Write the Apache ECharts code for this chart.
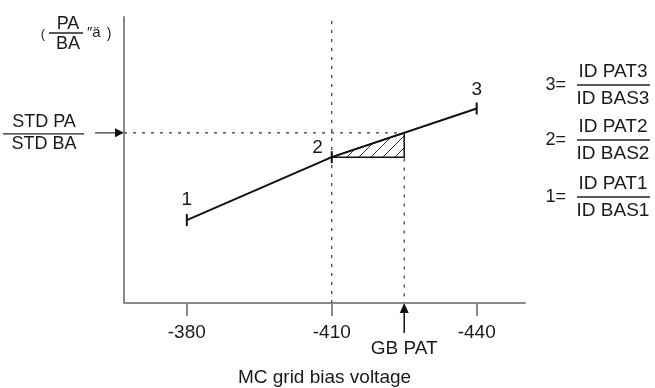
<!DOCTYPE html>
<html>
<head>
<meta charset="utf-8">
<script src="https://cdn.jsdelivr.net/npm/echarts@6/dist/echarts.min.js"></script>
<style>
  html, body { margin: 0; padding: 0; background: #fff; }
  #chart { width: 655px; height: 388px; }
</style>
</head>
<body>
<div id="chart"></div>
<script>
// Grid bias voltage settings (V) and the measured PA/BA ratio at each one
const biasVoltages = [-380, -410, -440];
const pointNames = ['1', '2', '3'];
const ratioValues = [29, 51, 68];
const tickValues = [-380, -410, -440];

// Target ratio and the bias voltage where the line reaches it
const stdRatio = 59.5;
const gbPat = -425;

// Axis extents
const xMin = -450;
const xMax = -367;
const yMin = 0;
const yMax = 100;

const FONT = 'Liberation Sans';
const INK = '#1a1a1a';
const AXIS_GRAY = '#8a8a8a';

// Diagonal hatch texture for the correction triangle
function makeHatch() {
  const c = document.createElement('canvas');
  const s = 12;
  c.width = s; c.height = s;
  const g = c.getContext('2d');
  g.strokeStyle = '#333';
  g.lineWidth = 1;
  g.beginPath();
  g.moveTo(0, s); g.lineTo(s, 0);
  g.moveTo(-3, 3); g.lineTo(3, -3);
  g.moveTo(s - 3, s + 3); g.lineTo(s + 3, s - 3);
  g.stroke();
  return { image: c, repeat: 'repeat' };
}
const hatch = makeHatch();

const linePoints = biasVoltages.map((v, i) => [v, ratioValues[i]]);
const triangle = [
  [biasVoltages[1], ratioValues[1]],
  [gbPat, ratioValues[1]],
  [gbPat, stdRatio]
];

const chart = echarts.init(document.getElementById('chart'), null, { renderer: 'canvas' });

chart.setOption({
  animation: false,
  backgroundColor: '#fff',
  grid: { left: 124, top: 17, width: 401, height: 286, outerBoundsMode: 'none', containLabel: false },
  xAxis: {
    type: 'value',
    inverse: true,
    min: xMin,
    max: xMax,
    splitLine: { show: false },
    axisLine: { show: true, onZero: false, lineStyle: { color: AXIS_GRAY, width: 2 } },
    axisTick: { show: true, inside: false, length: 13, customValues: tickValues,
                lineStyle: { color: AXIS_GRAY, width: 2 } },
    axisLabel: { show: true, customValues: tickValues, margin: 20,
                 fontFamily: FONT, fontSize: 19, color: INK },
    name: 'MC grid bias voltage',
    nameLocation: 'middle',
    nameGap: 65,
    nameTextStyle: { fontFamily: FONT, fontSize: 19, color: INK }
  },
  yAxis: {
    type: 'value',
    min: yMin,
    max: yMax,
    splitLine: { show: false },
    axisLine: { show: true, lineStyle: { color: AXIS_GRAY, width: 2 } },
    axisTick: { show: false },
    axisLabel: { show: false }
  },
  series: [
    {
      // hatched area between setting 2 and the target bias
      type: 'custom',
      z: 1,
      data: [[biasVoltages[1], ratioValues[1]]],
      renderItem: function (params, api) {
        const pts = triangle.map(p => api.coord(p));
        return {
          type: 'polygon',
          shape: { points: pts },
          style: { fill: hatch, stroke: '#111', lineWidth: 1.5 }
        };
      },
      silent: true
    },
    {
      // vertical guide at setting 2
      type: 'line',
      z: 1,
      data: [[biasVoltages[1], yMin], [biasVoltages[1], yMax]],
      symbol: 'none',
      lineStyle: { color: '#333', width: 1.2, type: [3, 6] },
      silent: true
    },
    {
      // guide from the target ratio to the target bias
      type: 'line',
      z: 1,
      data: [[xMax, stdRatio], [gbPat, stdRatio], [gbPat, yMin]],
      symbol: 'none',
      lineStyle: { color: '#333', width: 1.2, type: [3, 6] },
      silent: true
    },
    {
      type: 'line',
      z: 3,
      data: linePoints,
      symbol: 'none',
      lineStyle: { color: '#111', width: 2 },
      silent: true
    },
    {
      type: 'scatter',
      z: 4,
      symbol: 'rect',
      symbolSize: [2, 12],
      itemStyle: { color: '#111', opacity: 1 },
      data: linePoints.map((p, i) => ({
        value: p,
        label: {
          show: true,
          formatter: pointNames[i],
          position: i === 1 ? 'left' : 'top',
          distance: i === 1 ? 8 : (i === 2 ? 3 : 5),
          offset: i === 1 ? [0, -9] : [0, 0],
          fontFamily: FONT, fontSize: 19, color: INK
        }
      })),
      silent: true
    }
  ]
});

// Annotations placed from the axis scales
const origin = chart.convertToPixel({ gridIndex: 0 }, [xMax, yMin]);
const stdPx = chart.convertToPixel({ gridIndex: 0 }, [gbPat, stdRatio]);
const axisLeft = origin[0];
const axisBottom = origin[1];
const gx = stdPx[0];
const sy = stdPx[1];

function txt(text, x, y, size, align) {
  return {
    type: 'text', silent: true,
    style: { text: text, x: x, y: y, fill: INK, fontFamily: FONT, fontSize: size,
             align: align || 'center', verticalAlign: 'middle' }
  };
}
function rule(x1, x2, y) {
  return { type: 'line', silent: true, shape: { x1: x1, y1: y, x2: x2, y2: y },
           style: { stroke: '#222', lineWidth: 1.3 } };
}

const graphics = [
  // unit of the vertical axis
  txt('(', 43, 34, 13),
  txt('PA', 68, 24, 18),
  rule(49, 83, 33),
  txt('BA', 68, 44, 18),
  txt('″ä', 87, 33, 15, 'left'),
  txt(')', 109, 34, 14),

  // target ratio
  txt('STD PA', 44, 122, 18),
  rule(3, 84, sy + 1),
  txt('STD BA', 44, 144, 18),
  { type: 'line', silent: true, shape: { x1: 95, y1: sy, x2: axisLeft - 8, y2: sy },
    style: { stroke: '#555', lineWidth: 1.5 } },
  { type: 'polygon', silent: true,
    shape: { points: [[axisLeft - 9, sy - 4.5], [axisLeft, sy], [axisLeft - 9, sy + 4.5]] },
    style: { fill: '#111' } },

  // target bias
  { type: 'line', silent: true, shape: { x1: gx, y1: axisBottom + 8, x2: gx, y2: axisBottom + 30 },
    style: { stroke: '#111', lineWidth: 1.5 } },
  { type: 'polygon', silent: true,
    shape: { points: [[gx - 4.5, axisBottom + 10], [gx, axisBottom], [gx + 4.5, axisBottom + 10]] },
    style: { fill: '#111' } },
  txt('GB PAT', gx, axisBottom + 46, 19)
];

// definitions of the three ratios
const defs = [
  { eq: '3=', num: 'ID PAT3', den: 'ID BAS3', y: 85 },
  { eq: '2=', num: 'ID PAT2', den: 'ID BAS2', y: 140 },
  { eq: '1=', num: 'ID PAT1', den: 'ID BAS1', y: 197 }
];
defs.forEach(d => {
  graphics.push(txt(d.eq, 566, d.y, 18, 'right'));
  graphics.push(txt(d.num, 613, d.y - 13, 19));
  graphics.push(rule(577, 650, d.y));
  graphics.push(txt(d.den, 613, d.y + 14, 19));
});

chart.setOption({ graphic: graphics });
</script>
</body>
</html>
